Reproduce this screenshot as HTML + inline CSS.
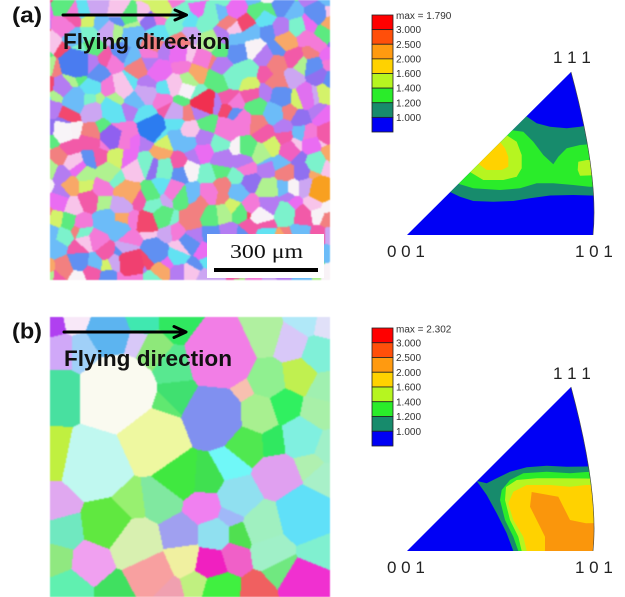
<!DOCTYPE html>
<html><head><meta charset="utf-8">
<style>
html,body{margin:0;padding:0;background:#fff;}
#wrap{position:relative;width:625px;height:597px;overflow:hidden;background:#fff;}
.map{position:absolute;left:50px;width:280px;height:280px;filter:blur(0.4px);}
#ma{top:0;background:#c9a6dc;}
#mb{top:317px;background:#aeecc8;}
svg{position:absolute;left:0;top:0;}
</style></head><body>
<div id="wrap">
<canvas id="ma" class="map" width="280" height="280"></canvas>
<canvas id="mb" class="map" width="280" height="280"></canvas>
<svg width="625" height="597" viewBox="0 0 625 597" xmlns="http://www.w3.org/2000/svg">
<defs>
<clipPath id="ca"><path d="M407,235 L571,72 Q599,175 593,235 Z"/></clipPath>
<clipPath id="cb"><path d="M407,551 L571,387 Q599,491 593,551 Z"/></clipPath>
</defs>
<!-- scale bar (a) -->
<rect x="207" y="234" width="117" height="44" fill="#fff"/>
<text x="230" y="258" font-family="Liberation Serif, serif" font-size="20" textLength="73" lengthAdjust="spacingAndGlyphs" fill="#111">300 μm</text>
<rect x="214" y="268" width="104" height="4" fill="#000"/>
<!-- labels -->
<text x="12" y="22.5" font-family="Liberation Sans, sans-serif" font-weight="bold" font-size="22" textLength="30" lengthAdjust="spacingAndGlyphs" fill="#111">(a)</text>
<text x="12" y="338.5" font-family="Liberation Sans, sans-serif" font-weight="bold" font-size="22" textLength="30" lengthAdjust="spacingAndGlyphs" fill="#111">(b)</text>
<!-- arrows -->
<g stroke="#000" stroke-width="3" fill="none" stroke-linecap="round" stroke-linejoin="round">
<line x1="63" y1="15" x2="185" y2="15"/>
<polyline points="175,10 186.5,15 175,20"/>
<line x1="64" y1="332" x2="185" y2="332"/>
<polyline points="174,326.5 186,332 174,337.5"/>
</g>
<text x="63" y="49" font-family="Liberation Sans, sans-serif" font-weight="bold" font-size="22" textLength="167" lengthAdjust="spacingAndGlyphs" fill="#111">Flying direction</text>
<text x="64" y="366" font-family="Liberation Sans, sans-serif" font-weight="bold" font-size="22" textLength="168" lengthAdjust="spacingAndGlyphs" fill="#111">Flying direction</text>

<!-- legend (a) -->
<g stroke="#222" stroke-width="0.8">
<rect x="372" y="15" width="21" height="14.625" fill="#ff0000"/>
<rect x="372" y="29.625" width="21" height="14.625" fill="#ff4f0a"/>
<rect x="372" y="44.25" width="21" height="14.625" fill="#ff9a10"/>
<rect x="372" y="58.875" width="21" height="14.625" fill="#ffd200"/>
<rect x="372" y="73.5" width="21" height="14.625" fill="#b6f520"/>
<rect x="372" y="88.125" width="21" height="14.625" fill="#2aec2a"/>
<rect x="372" y="102.75" width="21" height="14.625" fill="#178b6c"/>
<rect x="372" y="117.375" width="21" height="14.625" fill="#0000f5"/>
</g>
<g font-family="Liberation Sans, sans-serif" font-size="10" fill="#333">
<text x="396" y="19">max = 1.790</text>
<text x="396" y="33.2">3.000</text>
<text x="396" y="47.8">2.500</text>
<text x="396" y="62.5">2.000</text>
<text x="396" y="77.1">1.600</text>
<text x="396" y="91.7">1.400</text>
<text x="396" y="106.4">1.200</text>
<text x="396" y="121">1.000</text>
</g>
<!-- legend (b) -->
<g stroke="#222" stroke-width="0.8">
<rect x="372" y="328" width="21" height="14.75" fill="#ff0000"/>
<rect x="372" y="342.75" width="21" height="14.75" fill="#ff4f0a"/>
<rect x="372" y="357.5" width="21" height="14.75" fill="#ff9a10"/>
<rect x="372" y="372.25" width="21" height="14.75" fill="#ffd200"/>
<rect x="372" y="387" width="21" height="14.75" fill="#b6f520"/>
<rect x="372" y="401.75" width="21" height="14.75" fill="#2aec2a"/>
<rect x="372" y="416.5" width="21" height="14.75" fill="#178b6c"/>
<rect x="372" y="431.25" width="21" height="14.75" fill="#0000f5"/>
</g>
<g font-family="Liberation Sans, sans-serif" font-size="10" fill="#333">
<text x="396" y="332.5">max = 2.302</text>
<text x="396" y="346.4">3.000</text>
<text x="396" y="361.1">2.500</text>
<text x="396" y="375.9">2.000</text>
<text x="396" y="390.6">1.600</text>
<text x="396" y="405.4">1.400</text>
<text x="396" y="420.1">1.200</text>
<text x="396" y="434.9">1.000</text>
</g>

<!-- IPF (a) -->
<g clip-path="url(#ca)">
<rect x="400" y="60" width="210" height="180" fill="#0000f5"/>
<path fill="#178b6c" d="M450,192 L526,116 L536.7,123.3 L550,126.7 L566.7,128.3 L580,126.7 L590,125 L605,124 L605,196 L590,195.5 L573.3,195 L550,195.5 L530,198.3 L513.3,201 L493.3,201.7 L473.3,201 L460,196.7 Z"/>
<path fill="#2aec2a" d="M458.3,183.7 L511.7,130.3 L523.3,131.7 L533.3,141.7 L543.3,155 L553.3,164.3 L558.3,156.7 L566.7,148.3 L580,145 L590,144.3 L605,144 L605,187 L589.3,186.7 L573.3,185 L553.3,183.3 L536.7,183.3 L520,188.3 L500,190 L473.3,188.3 Z"/>
<path fill="#b6f520" d="M470,172 L506.7,135.3 L516.7,141.7 L521.7,155 L521.7,168.3 L516.7,176.7 L503.3,180 L483.3,180 Z"/>
<path fill="#b6f520" d="M578.3,161.7 L586.7,160 L605,160 L605,175 L580,175.7 L577.7,170 Z"/>
<path fill="#ffd200" d="M478.3,163.7 L500,142 L505,148.3 L508.3,156.7 L508.3,166.7 L501.7,170 L486.7,170 Z"/>
</g>
<path d="M571,72 Q599,175 593,235" fill="none" stroke="#444" stroke-width="0.6"/>
<g font-family="Liberation Sans, sans-serif" font-size="17" fill="#222">
<text x="553" y="63">1 1 1</text>
<text x="387" y="257">0 0 1</text>
<text x="575" y="257">1 0 1</text>
</g>

<!-- IPF (b) -->
<g clip-path="url(#cb)">
<rect x="400" y="375" width="210" height="180" fill="#0000f5"/>
<path fill="#178b6c" d="M476.7,481 L486.7,483.3 L496.7,478.3 L510,471.7 L526.7,467.3 L546.7,465.7 L566.7,466.7 L586,466.5 L605,466 L605,560 L513.3,560 L513.3,551 L506.7,533.3 L496.7,513.3 L486.7,495 Z"/>
<path fill="#2aec2a" d="M501.7,490 L510,480 L523.3,473.3 L546.7,471.7 L570,473.3 L586,472 L605,472 L605,560 L518.3,560 L518.3,551 L513.3,536.7 L505,520 L500,500 Z"/>
<path fill="#b6f520" d="M506,487 L516.7,480 L536.7,478.3 L556.7,478.3 L586,478.5 L605,479 L605,560 L521.7,560 L521.7,551 L518.3,536.7 L510,520 L505,500 Z"/>
<path fill="#ffd200" d="M513.3,491.7 L526.7,485 L550,485 L570,486.7 L586,485 L605,485 L605,560 L526.7,560 L526.7,551 L523.3,536.7 L513.3,520 L508.3,503.3 Z"/>
<path fill="#fa960c" d="M531.7,492 L558.3,496.7 L563.3,506.7 L570,520 L586,523.3 L605,523 L605,560 L545,560 L545,536.7 L536.7,520 L530,506.7 Z"/>
</g>
<path d="M571,387 Q599,491 593,551" fill="none" stroke="#444" stroke-width="0.6"/>
<g font-family="Liberation Sans, sans-serif" font-size="17" fill="#222">
<text x="553" y="379">1 1 1</text>
<text x="387" y="573">0 0 1</text>
<text x="575" y="573">1 0 1</text>
</g>
</svg>
</div>
<script>
function rng(seed){return function(){seed|=0;seed=seed+0x6D2B79F5|0;var t=Math.imul(seed^seed>>>15,1|seed);t=t+Math.imul(t^t>>>7,61|t)^t;return((t^t>>>14)>>>0)/4294967296;};}
function hex(c){return [parseInt(c.substr(1,2),16),parseInt(c.substr(3,2),16),parseInt(c.substr(5,2),16)];}
function draw(id,seeds){
  var cv=document.getElementById(id);if(!cv||!cv.getContext)return;
  var ctx=cv.getContext('2d'),W=cv.width,H=cv.height,img=ctx.createImageData(W,H),d=img.data;
  var n=seeds.length,cols=[],i;
  for(i=0;i<n;i++)cols.push(hex(seeds[i][3]));
  for(var y=0;y<H;y++){for(var x=0;x<W;x++){
    var best=1e12,bi=0;
    for(i=0;i<n;i++){var s=seeds[i],dx=x-s[0],dy=y-s[1],v=dx*dx+dy*dy-s[2]*s[2];if(v<best){best=v;bi=i;}}
    var c=cols[bi],o=(y*W+x)*4;d[o]=c[0];d[o+1]=c[1];d[o+2]=c[2];d[o+3]=255;
  }}
  ctx.putImageData(img,0,0);
}
try{
var pal=['#f47ad8','#f47ad8','#f47ad8','#ea6cf2','#ea6cf2','#f25aa8','#f25aa8','#b47cf2','#b47cf2','#9070f0',
'#6090f2','#6090f2','#6cbcf8','#6cbcf8','#62e2f2','#62e2f2','#7cf2cc','#7cf2cc','#5cea80','#5cea80',
'#b0f290','#b0f290','#d4f26a','#f8a868','#f28080','#f28080','#f2486e','#f8f2f6','#f8c4ea','#f8c4ea','#cca6f2','#cca6f2'];
var r=rng(24680),sa=[],cell=15;
for(var gy=-1;gy<20;gy++)for(var gx=-1;gx<20;gx++){
  sa.push([(gx+0.5+(r()-0.5)*0.9)*cell,(gy+0.5+(r()-0.5)*0.9)*cell,3+r()*6,pal[Math.floor(r()*pal.length)]]);
}
/* a few distinctive grains */
sa.push([25,63,14,'#4a7cf0'],[100,127,13,'#2c7cf0'],[270,190,13,'#f8a020'],[153,103,11,'#f03050'],
[80,262,13,'#f04070'],[12,130,10,'#f8f4f8'],[210,215,9,'#f8f2f8'],[135,88,9,'#f8f0f8'],[60,135,11,'#9060f0'],
[240,150,9,'#f060c0'],[255,95,10,'#e070f0']);
draw('ma',sa);
var sb=[
[4,8,10,'#b040f0'],[10,32,14,'#d0a8f8'],[24,4,10,'#f8e8f8'],[32,32,14,'#a0d0f8'],[58,16,20,'#5cb4f0'],
[90,4,10,'#40e8b0'],[86,24,8,'#d8c8f8'],[102,32,12,'#8ee87a'],[127,6,10,'#30e860'],[124,50,14,'#58e890'],
[170,38,32,'#f27ee6'],[213,18,16,'#b0f0a0'],[240,26,14,'#d8c8f8'],[254,4,10,'#b0e8f8'],[268,36,14,'#80f0d8'],
[275,8,8,'#e0e0f8'],[217,62,16,'#90f090'],[248,58,14,'#c0f050'],[274,72,12,'#a0f0b0'],[192,74,5,'#f8c0b0'],
[67,75,36,'#fafaf0'],[10,75,16,'#48e0a0'],[127,77,12,'#40e070'],[114,90,8,'#60e870'],[164,98,28,'#8090f0'],
[207,97,18,'#a8f090'],[234,88,13,'#30f060'],[268,95,14,'#a8f0a8'],[103,122,30,'#eef8a0'],[45,148,30,'#c0f8f0'],
[6,140,10,'#c0f040'],[252,120,18,'#80f0e0'],[196,126,16,'#50e850'],[222,124,10,'#30e860'],[274,128,10,'#a0f0c8'],
[128,158,18,'#40e840'],[155,160,12,'#40e050'],[110,182,14,'#80e8a0'],[180,146,10,'#70f8f8'],[188,180,16,'#90e0f0'],
[228,158,18,'#e0a0f0'],[258,146,8,'#b0f0b0'],[272,162,10,'#a8f0c8'],[254,198,26,'#60e0f8'],[214,208,18,'#a0f0c0'],
[154,190,12,'#f080f0'],[130,218,14,'#a0a0f0'],[164,218,14,'#90e0f0'],[180,198,6,'#a0b8f8'],[188,218,8,'#50e050'],
[57,208,22,'#60e840'],[80,186,9,'#98f070'],[7,188,12,'#e0a8f0'],[14,214,14,'#70e8c0'],[84,228,24,'#d8f0b0'],
[7,240,10,'#90e880'],[43,244,18,'#f0a0f0'],[97,256,22,'#f8a0a0'],[133,240,14,'#f0f0a0'],[160,245,14,'#f020c0'],
[182,238,10,'#f060c8'],[222,232,16,'#a0f0c8'],[268,234,14,'#80f0d0'],[232,252,10,'#70e880'],[168,272,14,'#40f040'],
[67,272,14,'#40e060'],[20,272,14,'#60f0b0'],[115,274,10,'#f0a0b0'],[147,266,8,'#c0f080'],[208,274,6,'#f06060'],
[255,266,22,'#f030d0']];
draw('mb',sb);
}catch(e){}
</script>
</body></html>
